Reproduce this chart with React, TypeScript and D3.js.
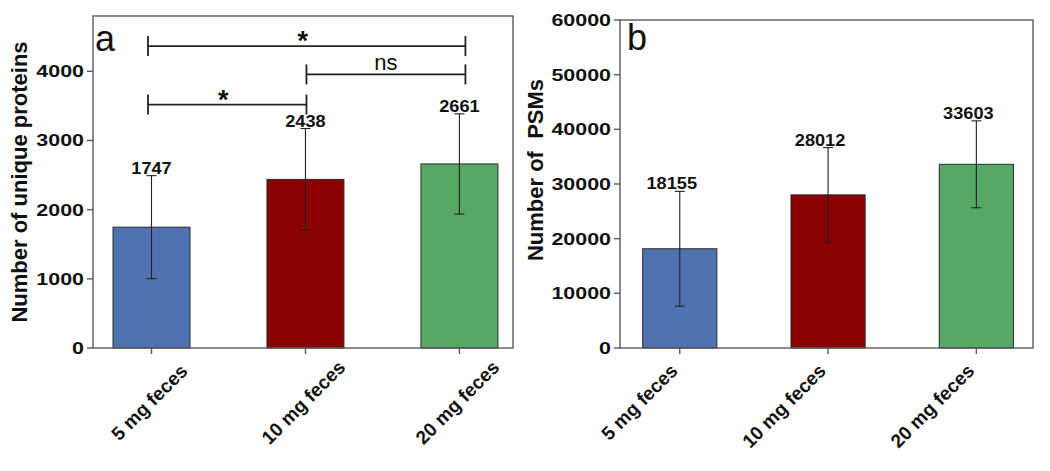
import React, { useEffect, useRef } from "react";
import * as d3 from "d3";

const categories = ["5 mg feces", "10 mg feces", "20 mg feces"];
const proteinMeans = [1747, 2438, 2661];
const proteinSD = [745, 735, 725];
const psmMeans = [18155, 28012, 33603];
const psmSD = [10500, 8650, 7950];
const proteinTicks = [0, 1000, 2000, 3000, 4000];
const psmTicks = [0, 10000, 20000, 30000, 40000, 50000, 60000];
const barColors = ["#4e72b0", "#8b0000", "#58a865"];
const sigFrom = [0, 1, 0];
const sigTo = [2, 2, 1];
const sigLevel = [4365, 3955, 3520];
const sigLabel = ["*", "ns", "*"];

const FONT = "'Liberation Sans', Arial, Helvetica, sans-serif";

type Panel = {
  left: number; top: number; right: number; bottom: number;
  yMax: number; ticks: number[]; means: number[]; sds: number[];
  padOuter: number; align: number; labelDx: number;
  letter: string; letterX: number; letterY: number;
  yLabel: string; yLabelX: number; yLabelY: number;
  xMode: "middle" | "end";
  sig: boolean;
};

function drawPanel(svg: d3.Selection<SVGSVGElement, unknown, null, undefined>, p: Panel) {
  const g = svg.append("g");
  const x = d3.scaleBand<string>().domain(categories).range([p.left, p.right])
    .paddingInner(0.5).paddingOuter(p.padOuter).align(p.align);
  const y = d3.scaleLinear().domain([0, p.yMax]).range([p.bottom, p.top]);
  const cx = (c: string) => (x(c) as number) + x.bandwidth() / 2;
  const axisColor = "#5a5a5a";

  // bars
  g.selectAll("rect.bar").data(categories).join("rect")
    .attr("x", (c) => x(c) as number)
    .attr("y", (c, i) => y(p.means[i]))
    .attr("width", x.bandwidth())
    .attr("height", (c, i) => p.bottom - y(p.means[i]))
    .attr("fill", (c, i) => barColors[i])
    .attr("stroke", "#2a2a2a").attr("stroke-width", 1);

  // error bars
  categories.forEach((c, i) => {
    const hi = y(p.means[i] + p.sds[i]);
    const lo = y(p.means[i] - p.sds[i]);
    const xc = cx(c);
    g.append("line").attr("x1", xc).attr("x2", xc).attr("y1", hi).attr("y2", lo)
      .attr("stroke", "#222").attr("stroke-width", 1.1);
    [hi, lo].forEach((yy) => g.append("line").attr("x1", xc - 5).attr("x2", xc + 5)
      .attr("y1", yy).attr("y2", yy).attr("stroke", "#222").attr("stroke-width", 1.1));
    g.append("text").attr("transform", `translate(${xc + p.labelDx},${hi - 2}) scale(1.07,1)`)
      .attr("text-anchor", "middle").attr("font-family", FONT).attr("font-weight", "bold")
      .attr("font-size", 17).attr("fill", "#111").text(String(p.means[i]));
  });

  // frame
  g.append("rect").attr("x", p.left).attr("y", p.top)
    .attr("width", p.right - p.left).attr("height", p.bottom - p.top)
    .attr("fill", "none").attr("stroke", axisColor).attr("stroke-width", 1.4);

  // y ticks
  p.ticks.forEach((t) => {
    g.append("line").attr("x1", p.left - 6).attr("x2", p.left).attr("y1", y(t)).attr("y2", y(t))
      .attr("stroke", axisColor).attr("stroke-width", 1.4);
    g.append("text").attr("transform", `translate(${p.left - 9},${y(t)}) scale(1.3,1)`)
      .attr("text-anchor", "end").attr("dy", "0.36em").attr("font-family", FONT)
      .attr("font-weight", "bold").attr("font-size", 16.5).attr("fill", "#111").text(String(t));
  });

  // x ticks
  categories.forEach((c) => {
    const xc = cx(c);
    g.append("line").attr("x1", xc).attr("x2", xc).attr("y1", p.bottom).attr("y2", p.bottom + 6)
      .attr("stroke", axisColor).attr("stroke-width", 1.4);
    const t = g.append("text").attr("font-family", FONT).attr("font-weight", "bold")
      .attr("font-size", 19).attr("fill", "#111").text(c);
    if (p.xMode === "middle") {
      t.attr("text-anchor", "middle").attr("transform", `translate(${xc + 2.5},${407}) rotate(-45)`);
    } else {
      t.attr("text-anchor", "end").attr("transform", `translate(${xc - 1},${372}) rotate(-45)`);
    }
  });

  // y label
  g.append("text").attr("transform", `translate(${p.yLabelX},${p.yLabelY}) rotate(-90)`)
    .attr("text-anchor", "middle").attr("font-family", FONT).attr("font-weight", "bold")
    .attr("font-size", 22).attr("fill", "#111").style("white-space", "pre").text(p.yLabel);

  // panel letter
  g.append("text").attr("x", p.letterX).attr("y", p.letterY).attr("font-family", FONT)
    .attr("font-size", 36).attr("fill", "#111").text(p.letter);

  // significance brackets
  if (p.sig) {
    const ends = [-3.5, 1, 6];
    sigLevel.forEach((lv, k) => {
      const x1 = cx(categories[sigFrom[k]]) + ends[sigFrom[k]];
      const x2 = cx(categories[sigTo[k]]) + ends[sigTo[k]];
      const yy = y(lv);
      g.append("line").attr("x1", x1).attr("x2", x2).attr("y1", yy).attr("y2", yy)
        .attr("stroke", "#222").attr("stroke-width", 1.8);
      [x1, x2].forEach((xx) => g.append("line").attr("x1", xx).attr("x2", xx)
        .attr("y1", yy - 10).attr("y2", yy + 10).attr("stroke", "#222").attr("stroke-width", 1.8));
      const isStar = sigLabel[k] === "*";
      g.append("text").attr("x", (x1 + x2) / 2 + (isStar ? -4 : 0))
        .attr("y", isStar ? yy + 4 : yy - 4)
        .attr("text-anchor", "middle").attr("font-family", FONT)
        .attr("font-weight", isStar ? "bold" : "normal")
        .attr("font-size", isStar ? 27 : 22).attr("fill", "#111").text(sigLabel[k]);
    });
  }
}

export default function App() {
  const ref = useRef<SVGSVGElement>(null);
  useEffect(() => {
    if (!ref.current) return;
    const svg = d3.select(ref.current);
    svg.selectAll("*").remove();
    svg.append("rect").attr("width", 1050).attr("height", 471).attr("fill", "#fff");
    drawPanel(svg, {
      left: 93, top: 16, right: 513, bottom: 348,
      yMax: 4800, ticks: proteinTicks, means: proteinMeans, sds: proteinSD,
      padOuter: 0.114, align: 0.57, labelDx: 0,
      letter: "a", letterX: 95, letterY: 51,
      yLabel: "Number of unique proteins", yLabelX: 27, yLabelY: 182,
      xMode: "middle", sig: true,
    });
    drawPanel(svg, {
      left: 620, top: 20, right: 1033, bottom: 348,
      yMax: 60000, ticks: psmTicks, means: psmMeans, sds: psmSD,
      padOuter: 0.1425, align: 0.537, labelDx: -8,
      letter: "b", letterX: 627, letterY: 50,
      yLabel: "Number of  PSMs", yLabelX: 543, yLabelY: 170,
      xMode: "end", sig: false,
    });
  }, []);
  return (
    <svg ref={ref} width={1050} height={471}
      style={{ position: "absolute", left: 0, top: 0, display: "block" }} />
  );
}
